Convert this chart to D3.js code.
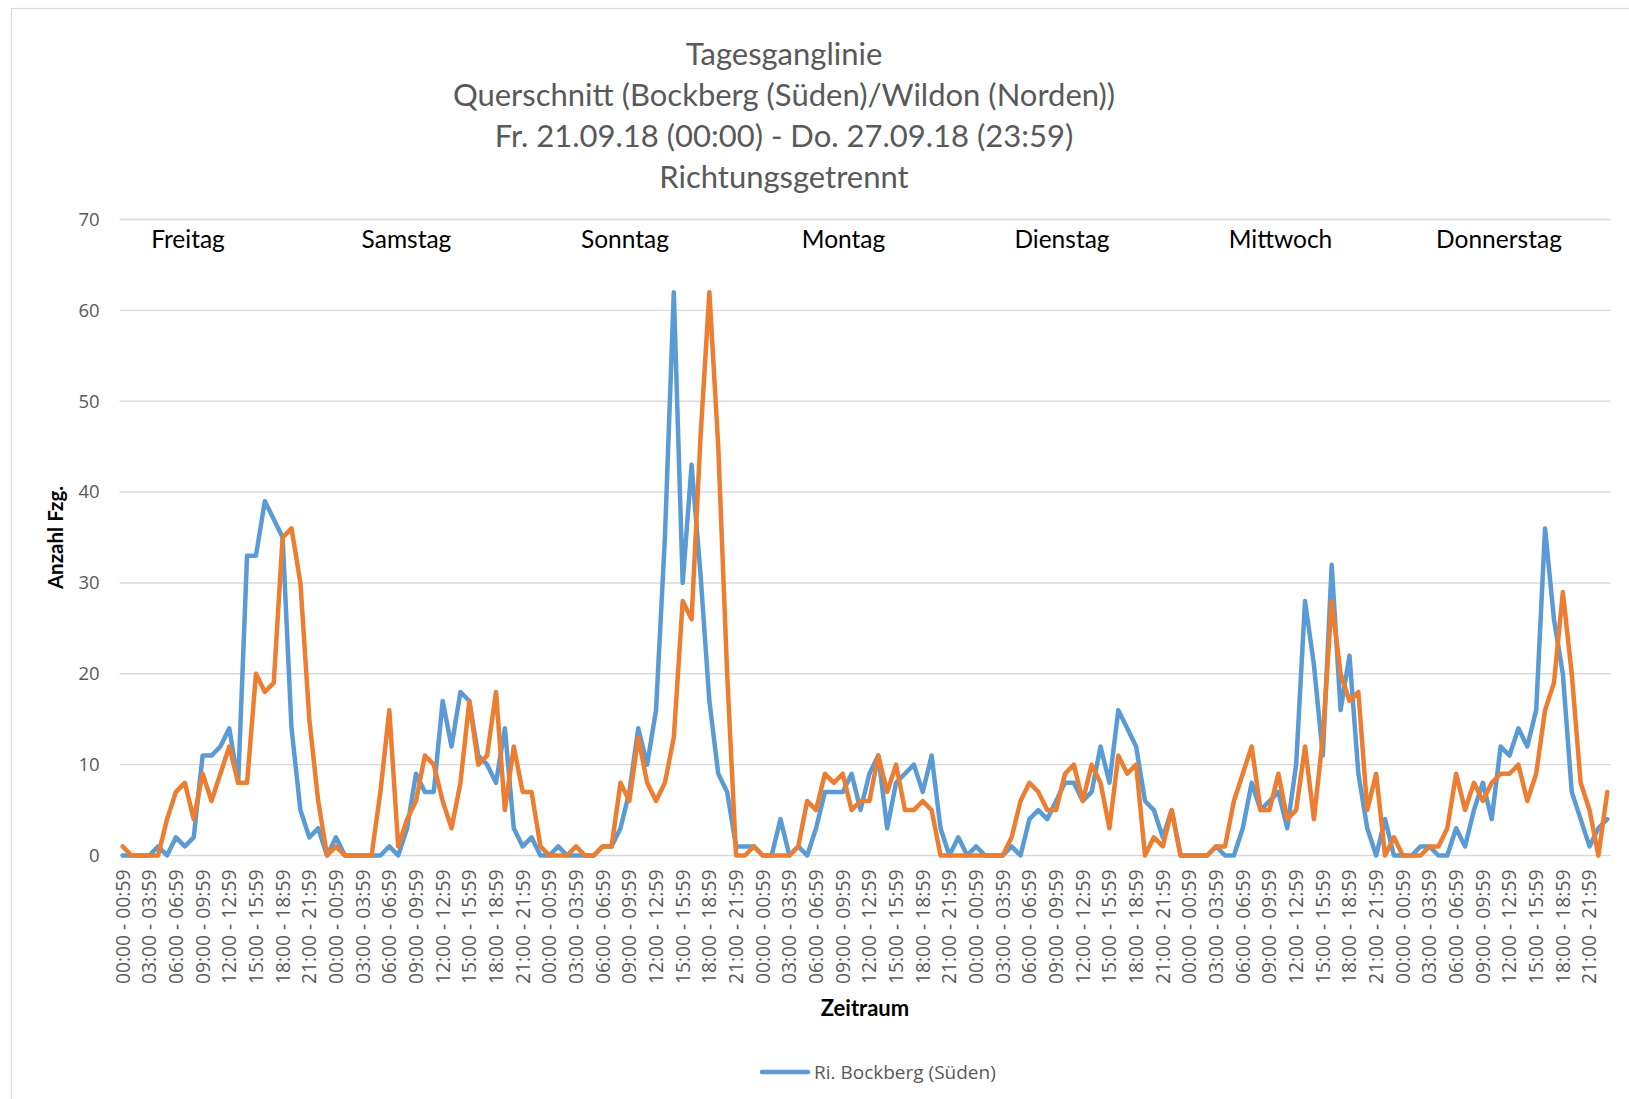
<!DOCTYPE html>
<html>
<head>
<meta charset="utf-8">
<script src="https://cdn.jsdelivr.net/npm/d3@7"></script>
<style>
  html, body { margin: 0; padding: 0; background: #fff; }
  svg { display: block; }
</style>
</head>
<body>
<svg id="chart" width="1629" height="1099"></svg>
<script>
// ---------- data ----------
const titleLines = [
  "Tagesganglinie",
  "Querschnitt (Bockberg (Süden)/Wildon (Norden))",
  "Fr. 21.09.18 (00:00) - Do. 27.09.18 (23:59)",
  "Richtungsgetrennt"
];
const days = ["Freitag", "Samstag", "Sonntag", "Montag", "Dienstag", "Mittwoch", "Donnerstag"];
const tickLabels = ["00:00 - 00:59", "03:00 - 03:59", "06:00 - 06:59", "09:00 - 09:59",
                    "12:00 - 12:59", "15:00 - 15:59", "18:00 - 18:59", "21:00 - 21:59"];
const yTicks = [0, 10, 20, 30, 40, 50, 60, 70];

// Ri. Bockberg (Süden) – hourly counts, Fri..Thu
const bockberg = [
  0,0,0,0,1,0,2,1,2,11,11,12,14,8,33,33,39,37,35,14,5,2,3,0,        // Fr
  2,0,0,0,0,0,1,0,3,9,7,7,17,12,18,17,11,10,8,14,3,1,2,0,           // Sa
  0,1,0,0,0,0,1,1,3,7,14,10,16,35,62,30,43,31,17,9,7,1,1,1,         // So
  0,0,4,0,1,0,3,7,7,7,9,5,9,11,3,8,9,10,7,11,3,0,2,0,               // Mo
  1,0,0,0,1,0,4,5,4,6,8,8,6,7,12,8,16,14,12,6,5,2,5,0,              // Di
  0,0,0,1,0,0,3,8,5,6,7,3,10,28,21,11,32,16,22,9,3,0,4,0,           // Mi
  0,0,1,1,0,0,3,1,5,8,4,12,11,14,12,16,36,26,20,7,4,1,3,4           // Do
];
// Ri. Wildon (Norden) – hourly counts, Fri..Thu
const wildon = [
  1,0,0,0,0,4,7,8,4,9,6,9,12,8,8,20,18,19,35,36,30,15,6,0,          // Fr
  1,0,0,0,0,7,16,1,4,6,11,10,6,3,8,17,10,11,18,5,12,7,7,1,          // Sa
  0,0,0,1,0,0,1,1,8,6,13,8,6,8,13,28,26,46,62,45,20,0,0,1,          // So
  0,0,0,0,1,6,5,9,8,9,5,6,6,11,7,10,5,5,6,5,0,0,0,0,                // Mo
  0,0,0,0,2,6,8,7,5,5,9,10,6,10,8,3,11,9,10,0,2,1,5,0,              // Di
  0,0,0,1,1,6,9,12,5,5,9,4,5,12,4,13,28,20,17,18,5,9,0,2,           // Mi
  0,0,0,1,1,3,9,5,8,6,8,9,9,10,6,9,16,19,29,20,8,5,0,7              // Do
];
const seriesNames = ["Ri. Bockberg (Süden)", "Ri. Wildon (Norden)"];
const seriesColors = ["#5B9BD5", "#ED7D31"];
const legendShown = ["Ri. Bockberg (Süden)"];

// ---------- layout ----------
const W = 1629, H = 1099;
const plot = { left: 122.6, right: 1607.3, top: 219.5, bottom: 855.5 };
const svg = d3.select("#chart");

svg.append("rect").attr("x", 11.5).attr("y", 8.5).attr("width", W).attr("height", H)
  .attr("fill", "#fff").attr("stroke", "#d9d9d9").attr("stroke-width", 1.2);

const n = bockberg.length;
const x = d3.scaleLinear().domain([0, n - 1]).range([plot.left, plot.right]);
const y = d3.scaleLinear().domain([0, 70]).range([plot.bottom, plot.top]);

// gridlines
svg.append("g").selectAll("line").data(yTicks).join("line")
  .attr("x1", plot.left - 3).attr("x2", plot.right + 3)
  .attr("y1", d => y(d)).attr("y2", d => y(d))
  .attr("stroke", "#d9d9d9").attr("stroke-width", 1.4);

// y axis labels
const yAxis = d3.axisLeft(y).tickValues(yTicks).tickSize(0).tickPadding(0);
const gy = svg.append("g").attr("transform", `translate(${plot.left - 23},0)`).call(yAxis);
gy.select(".domain").remove();
gy.selectAll("text").attr("font-family", "'Open Sans', sans-serif").attr("font-size", 18.5)
  .attr("fill", "#595959");

// x axis labels (every 3rd hour)
const tickIdx = d3.range(0, n, 3);
svg.append("g").selectAll("text").data(tickIdx).join("text")
  .attr("transform", d => `translate(${x(d)},${plot.bottom + 14}) rotate(-90)`)
  .attr("text-anchor", "end")
  .attr("dy", "0.36em")
  .attr("font-family", "'Open Sans', sans-serif").attr("font-size", 19.3)
  .attr("fill", "#595959")
  .text(d => tickLabels[(d % 24) / 3]);

// lines
const lineGen = d3.line().x((d, i) => x(i)).y(d => y(d));
[bockberg, wildon].forEach((vals, k) => {
  svg.append("path").datum(vals)
    .attr("d", lineGen)
    .attr("fill", "none")
    .attr("stroke", seriesColors[k])
    .attr("stroke-width", 4.5)
    .attr("stroke-linejoin", "round")
    .attr("stroke-linecap", "round");
});

// day labels
const dayX = d3.scaleLinear().domain([0, days.length - 1]).range([188, 1499]);
svg.append("g").selectAll("text").data(days).join("text")
  .attr("x", (d, i) => dayX(i)).attr("y", 239).attr("dy", "0.35em")
  .attr("text-anchor", "middle")
  .attr("font-family", "Lato, sans-serif").attr("font-size", 24.5)
  .attr("fill", "#000")
  .text(d => d);

// title
svg.append("g").selectAll("text").data(titleLines).join("text")
  .attr("x", 784).attr("y", (d, i) => 54 + i * 41).attr("dy", "0.35em")
  .attr("text-anchor", "middle")
  .attr("font-family", "Lato, sans-serif").attr("font-size", 31)
  .attr("fill", "#595959")
  .text(d => d);

// axis titles
svg.append("text")
  .attr("transform", `translate(56,${(plot.top + plot.bottom) / 2}) rotate(-90)`)
  .attr("text-anchor", "middle").attr("dy", "0.35em")
  .attr("font-family", "Lato, sans-serif").attr("font-weight", "bold").attr("font-size", 20.5)
  .attr("fill", "#000").text("Anzahl Fzg.");
svg.append("text")
  .attr("x", (plot.left + plot.right) / 2).attr("y", 1008).attr("dy", "0.35em")
  .attr("text-anchor", "middle")
  .attr("font-family", "Lato, sans-serif").attr("font-weight", "bold").attr("font-size", 22)
  .attr("fill", "#000").text("Zeitraum");

// legend
const lg = svg.append("g").selectAll("g").data(legendShown).join("g")
  .attr("transform", (d, i) => `translate(762,1072)`);
lg.append("line").attr("x1", 0).attr("x2", 46).attr("y1", 0).attr("y2", 0)
  .attr("stroke", d => seriesColors[seriesNames.indexOf(d)]).attr("stroke-width", 4.5)
  .attr("stroke-linecap", "round");
lg.append("text").attr("x", 52).attr("dy", "0.35em")
  .attr("font-family", "'Open Sans', sans-serif").attr("font-size", 19)
  .attr("fill", "#595959").text(d => d);
</script>
</body>
</html>
